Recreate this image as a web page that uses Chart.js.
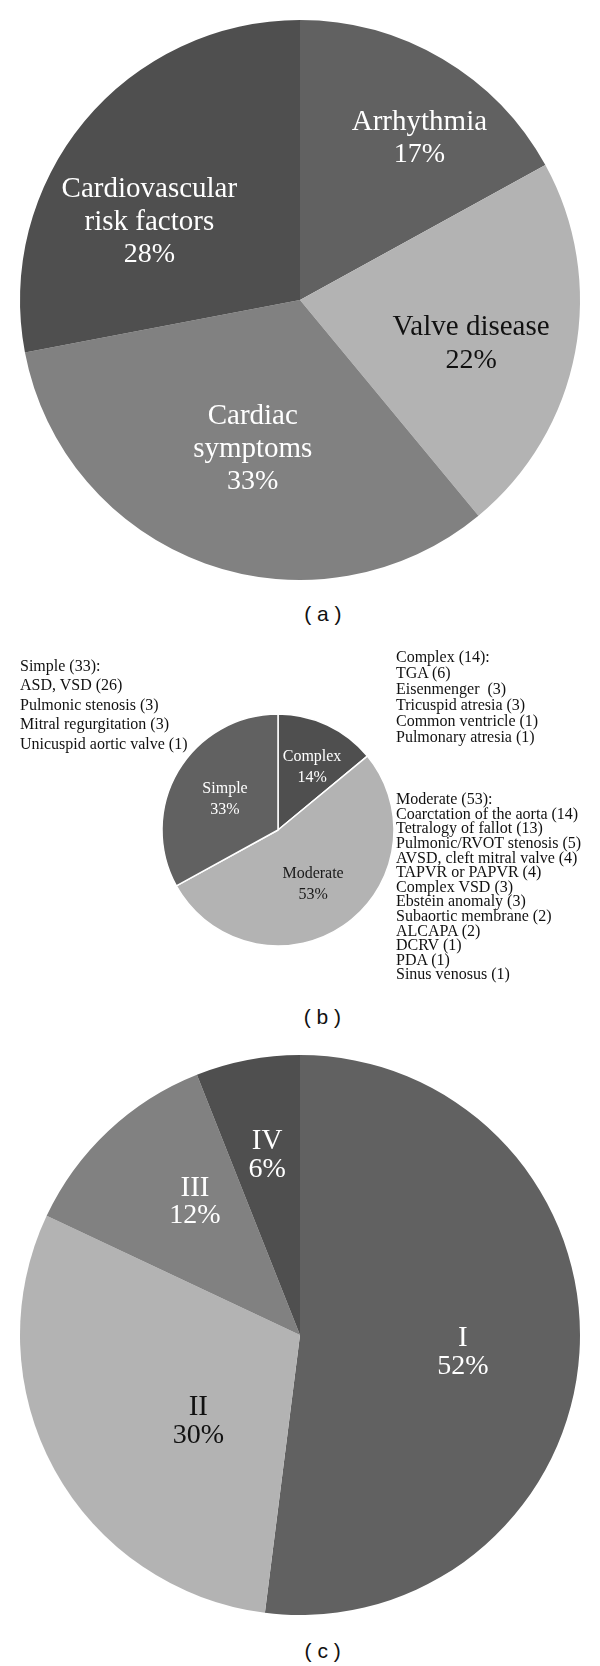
<!DOCTYPE html>
<html><head><meta charset="utf-8">
<script src="https://cdn.jsdelivr.net/npm/chart.js@4.4.1/dist/chart.umd.min.js"></script>
<style>
html,body{margin:0;padding:0;background:#fff;}
#page{position:relative;width:600px;height:1666px;overflow:hidden;}
canvas{position:absolute;}
.list{position:absolute;font-family:'Liberation Serif','Times New Roman',serif;font-size:16px;color:#111;white-space:nowrap;z-index:2;}
.cap{position:absolute;width:100px;text-align:center;font-family:'Liberation Sans',Arial,sans-serif;font-size:21px;line-height:21px;color:#111;white-space:pre;}
</style></head><body>
<div id="page">
<canvas id="ca" width="600" height="600" style="left:0;top:0"></canvas>
<canvas id="cb" width="240" height="240" style="left:158px;top:710px"></canvas>
<canvas id="cc" width="600" height="600" style="left:0;top:1035px"></canvas>
<div id="listSimple" class="list" style="left:20px;top:656px;line-height:19.4px"></div>
<div id="listComplex" class="list" style="left:396px;top:649.4px;line-height:16px"></div>
<div id="listModerate" class="list" style="left:396px;top:792.3px;line-height:14.6px"></div>
<div class="cap" style="left:272.8px;top:602.9px">( a )</div>
<div class="cap" style="left:272.3px;top:1006.3px">( b )</div>
<div class="cap" style="left:272.7px;top:1639.8px">( c )</div>
</div>
<script>
// ---- data ----
const categoriesA = [['Arrhythmia'], ['Valve disease'], ['Cardiac', 'symptoms'], ['Cardiovascular', 'risk factors']];
const valuesA = [17, 22, 33, 28];

const categoriesB = [['Complex'], ['Moderate'], ['Simple']];
const valuesB = [14, 53, 33];

const categoriesC = [['I'], ['II'], ['III'], ['IV']];
const valuesC = [52, 30, 12, 6];

const simpleList = ['Simple (33):', 'ASD, VSD (26)', 'Pulmonic stenosis (3)', 'Mitral regurgitation (3)', 'Unicuspid aortic valve (1)'];
const complexList = ['Complex (14):', 'TGA (6)', 'Eisenmenger\u00a0 (3)', 'Tricuspid atresia (3)', 'Common ventricle (1)', 'Pulmonary atresia (1)'];
const moderateList = ['Moderate (53):', 'Coarctation of the aorta (14)', 'Tetralogy of fallot (13)', 'Pulmonic/RVOT stenosis (5)', 'AVSD, cleft mitral valve (4)', 'TAPVR or PAPVR (4)', 'Complex VSD (3)', 'Ebstein anomaly (3)', 'Subaortic membrane (2)', 'ALCAPA (2)', 'DCRV (1)', 'PDA (1)', 'Sinus venosus (1)'];

// ---- styles ----
const DARK = '#4f4f4f', MIDDARK = '#616161', MID = '#818181', LIGHT = '#b3b3b3';
const styleA = { colors: [MIDDARK, LIGHT, MID, DARK], text: ['#fff', '#111', '#fff', '#fff'],
  place: [[36.5, 0.717], [104.4, 0.631], [197.6, 0.558], [297.4, 0.606]], font: 29, numFont: 28, lh: 32.5, radius: 280 };
const styleB = { colors: [DARK, LIGHT, MIDDARK], text: ['#fff', '#1a1a1a', '#fff'],
  place: [[28.4, 0.617], [147, 0.555], [299.9, 0.527]], font: 16, numFont: 16, lh: 21, radius: 116 };
const styleC = { colors: [MIDDARK, LIGHT, MID, DARK], text: ['#fff', '#111', '#fff', '#fff'],
  place: [[96.2, 0.585], [229.6, 0.477], [321.7, 0.605], [349.6, 0.651]], font: 29, numFont: 28, lh: 28, radius: 280 };

function fillList(id, arr) {
  const el = document.getElementById(id);
  arr.forEach(t => { const d = document.createElement('div'); d.textContent = t; el.appendChild(d); });
}
fillList('listSimple', simpleList);
fillList('listComplex', complexList);
fillList('listModerate', moderateList);

function labelPlugin(cats, vals, st) {
  return {
    id: 'sliceLabels',
    afterDatasetsDraw(chart) {
      const ctx = chart.ctx;
      const meta = chart.getDatasetMeta(0);
      ctx.save();
      ctx.textAlign = 'center';
      ctx.textBaseline = 'middle';
      meta.data.forEach((arc, i) => {
        const p = arc.getProps(['x', 'y', 'outerRadius'], true);
        const a = (st.place[i][0] - 90) * Math.PI / 180;
        const cx = p.x + Math.cos(a) * st.place[i][1] * p.outerRadius;
        const cy = p.y + Math.sin(a) * st.place[i][1] * p.outerRadius;
        const lines = cats[i].concat([vals[i] + '%']);
        const y0 = cy - (lines.length - 1) * st.lh / 2;
        ctx.fillStyle = st.text[i];
        lines.forEach((l, k) => {
          const sz = k === lines.length - 1 ? st.numFont : st.font;
          ctx.font = sz + 'px "Liberation Serif", "Times New Roman", serif';
          ctx.fillText(l, cx, y0 + k * st.lh);
        });
      });
      ctx.restore();
    }
  };
}

function makePie(id, cats, vals, st, bw) {
  new Chart(document.getElementById(id), {
    type: 'pie',
    data: {
      labels: cats,
      datasets: [{ data: vals, backgroundColor: st.colors, borderColor: '#ffffff', borderWidth: bw, hoverOffset: 0, offset: 0 }]
    },
    options: {
      responsive: false,
      animation: false,
      devicePixelRatio: 1,
      radius: st.radius,
      layout: { padding: 0 },
      events: [],
      plugins: { legend: { display: false }, tooltip: { enabled: false } }
    },
    plugins: [labelPlugin(cats, vals, st)]
  });
}

makePie('ca', categoriesA, valuesA, styleA, 0);
makePie('cb', categoriesB, valuesB, styleB, 1.5);
makePie('cc', categoriesC, valuesC, styleC, 0);
</script>
</body></html>
